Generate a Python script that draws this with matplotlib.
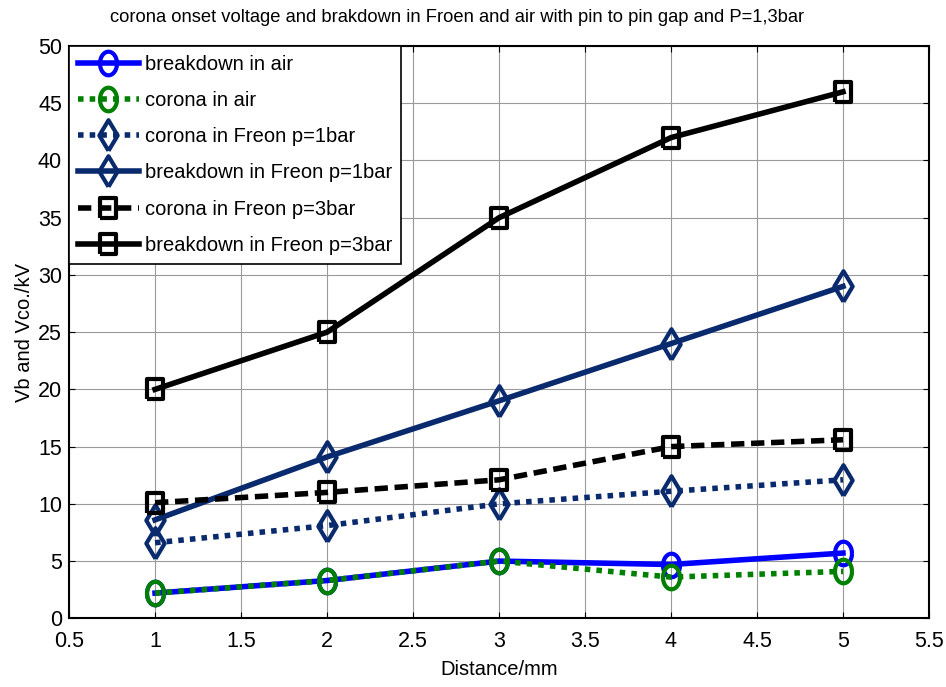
import matplotlib.pyplot as plt
import numpy as np

plt.rcParams['font.family'] = ['Liberation Sans', 'DejaVu Sans']

# data
distance = [1, 2, 3, 4, 5]
breakdownAir = [2.2, 3.3, 5.0, 4.7, 5.7]
coronaAir = [2.2, 3.3, 5.0, 3.6, 4.1]
coronaFreon1 = [6.6, 8.1, 10.0, 11.1, 12.1]
breakdownFreon1 = [8.6, 14.1, 19.0, 24.0, 29.0]
coronaFreon3 = [10.1, 11.0, 12.1, 15.0, 15.6]
breakdownFreon3 = [20.0, 25.0, 35.0, 42.0, 46.0]

labels = ['breakdown in air', 'corona in air', 'corona in Freon p=1bar',
          'breakdown in Freon p=1bar', 'corona in Freon p=3bar',
          'breakdown in Freon p=3bar']

navy = '#0a2a6e'

# slightly tall marker shapes (the picture is a bit squeezed sideways)
t = np.linspace(0, 2 * np.pi, 40)
ellipse = list(zip(0.72 * np.cos(t), np.sin(t)))
rect = [(-0.75, -1), (0.75, -1), (0.75, 1), (-0.75, 1), (-0.75, -1)]
diamond = [(0, -1), (0.6, 0), (0, 1), (-0.6, 0), (0, -1)]

fig = plt.figure(figsize=(9.46, 6.87), dpi=100)
ax = fig.add_axes([0.073, 0.100, 0.909, 0.833])

lw = 4.0
mew = 3.0
ax.plot(distance, breakdownAir, color='blue', lw=lw, marker=ellipse, ms=17,
        mew=mew, mfc='none', label=labels[0])
ax.plot(distance, coronaAir, color='green', lw=lw, ls=(0, (1, 1.1)), marker=ellipse,
        ms=17, mew=mew, mfc='none', label=labels[1])
ax.plot(distance, coronaFreon1, color=navy, lw=lw, ls=(0, (1, 1.1)), marker=diamond,
        ms=22, mew=mew, mfc='none', label=labels[2])
ax.plot(distance, breakdownFreon1, color=navy, lw=lw, marker=diamond, ms=22,
        mew=mew, mfc='none', label=labels[3])
ax.plot(distance, coronaFreon3, color='black', lw=lw, ls=(0, (2.4, 1.2)), marker=rect,
        ms=15, mew=mew, mfc='none', label=labels[4])
ax.plot(distance, breakdownFreon3, color='black', lw=lw, marker=rect, ms=15,
        mew=mew, mfc='none', label=labels[5])

ax.set_xlim(0.5, 5.5)
ax.set_ylim(0, 50)
ax.set_xticks(np.arange(0.5, 5.51, 0.5))
ax.set_yticks(np.arange(0, 51, 5))
ax.set_xticklabels(['0.5', '1', '1.5', '2', '2.5', '3', '3.5', '4', '4.5', '5', '5.5'])
ax.tick_params(direction='in', top=True, right=True, labelsize=15.5, length=4, width=0.8)
ax.tick_params(axis='x', pad=9)
ax.tick_params(axis='y', pad=5)
ax.grid(True, color='#9a9a9a', lw=0.8)
for s in ax.spines.values():
    s.set_linewidth(1.5)

ax.set_title('corona onset voltage and brakdown in Froen and air with pin to pin gap and P=1,3bar',
             fontsize=13.2, pad=17, x=0.451)
ax.set_xlabel('Distance/mm', fontsize=14.5, labelpad=6)
ax.set_ylabel('Vb and Vco./kV', fontsize=14.5, labelpad=3)

leg = ax.legend(loc='upper left', borderaxespad=0, fontsize=14.5, handlelength=3.0,
                labelspacing=0.85, handletextpad=0.3, fancybox=False, framealpha=1,
                borderpad=0.45)
leg.get_frame().set_edgecolor('black')
leg.get_frame().set_linewidth(1.2)

fig.savefig('out.png', dpi=100)
